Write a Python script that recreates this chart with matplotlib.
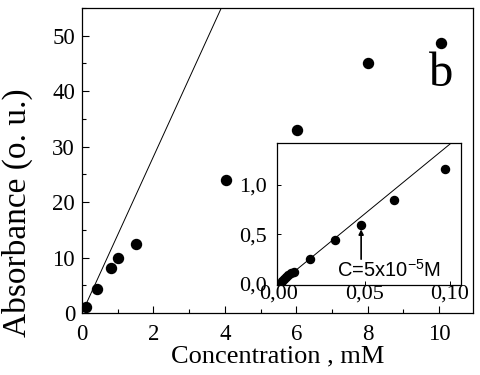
import matplotlib
matplotlib.use("Agg")
import matplotlib.pyplot as plt
import numpy as np
from matplotlib.ticker import MultipleLocator, FuncFormatter

# ---- data ----
main_conc = [0.11, 0.41, 0.81, 1.0, 1.52, 4.03, 6.01, 8.01, 10.04]
main_abs = [1.0, 4.3, 8.2, 9.9, 12.5, 23.9, 33.0, 45.1, 48.6]
inset_conc = [0.001, 0.002, 0.003, 0.004, 0.005, 0.007, 0.009, 0.018, 0.033, 0.048, 0.067, 0.097]
inset_abs = [0.01, 0.03, 0.05, 0.07, 0.09, 0.11, 0.12, 0.25, 0.44, 0.59, 0.85, 1.16]
fit_slope = 14.1  # absorbance per mM
main_xticks = [0, 2, 4, 6, 8, 10]
main_yticks = [0, 10, 20, 30, 40, 50]
inset_xticks = [0.0, 0.05, 0.10]
inset_yticks = [0.0, 0.5, 1.0]

serif = ["Liberation Serif", "DejaVu Serif"]
plt.rcParams['font.family'] = serif
plt.rcParams['mathtext.fontset'] = 'custom'
plt.rcParams['mathtext.rm'] = 'Liberation Sans'
plt.rcParams['mathtext.it'] = 'Liberation Sans'

fig = plt.figure(figsize=(4.81, 3.75), dpi=100)
ax = fig.add_axes([0.1705, 0.1653, 0.8129, 0.8134])

ax.plot(main_conc, main_abs, 'o', color='black', markersize=7.2, zorder=3)
fx = np.array([0.0, 4.0])
ax.plot(fx, fit_slope * fx, '-', color='black', lw=0.7)
ax.set_xlim(0, 10.95)
ax.set_ylim(0, 55)
ax.set_xticks(main_xticks)
ax.set_yticks(main_yticks)
ax.xaxis.set_minor_locator(MultipleLocator(1))
ax.yaxis.set_minor_locator(MultipleLocator(5))
ax.tick_params(which='both', direction='in', top=False, right=False, labelsize=16.5, width=0.8)
ax.tick_params(which='major', length=5)
ax.tick_params(which='minor', length=3)
ax.tick_params(axis='x', pad=8)
ax.tick_params(axis='y', pad=5)
for s in ax.spines.values():
    s.set_linewidth(0.9)
ax.set_xlabel('Concentration , mM', fontsize=19, labelpad=0)
ax.set_ylabel('Absorbance (o. u.)', fontsize=24)
ax.yaxis.set_label_coords(-0.125, 0.33)
ax.text(10.05, 41.0, 'b', fontsize=35, ha='center', va='baseline')

# ---- inset ----
ins = fig.add_axes([0.5759, 0.24, 0.3825, 0.3787])
ins.set_facecolor('white')
ins.plot(inset_conc, inset_abs, 'o', color='black', markersize=5.8, zorder=3)
ix = np.array([0.0, 0.101])
ins.plot(ix, fit_slope * ix, '-', color='black', lw=0.7)
ins.set_xlim(-0.0012, 0.1064)
ins.set_ylim(-0.01, 1.42)
ins.set_xticks(inset_xticks)
ins.set_yticks(inset_yticks)
ins.xaxis.set_major_formatter(FuncFormatter(lambda v, p: f"{v:.2f}".replace('.', ',')))
ins.yaxis.set_major_formatter(FuncFormatter(lambda v, p: f"{v:.1f}".replace('.', ',')))
ins.tick_params(which='both', direction='in', top=False, right=False, labelsize=16, length=3, width=0.7)
ins.tick_params(axis='x', pad=0)
ins.tick_params(axis='y', pad=7)
for s in ins.spines.values():
    s.set_linewidth(0.9)
ins.annotate('', xy=(0.048, 0.55), xytext=(0.048, 0.25),
             arrowprops=dict(arrowstyle='-|>', color='black', lw=1.2, mutation_scale=7,
                             shrinkA=0, shrinkB=0))
ins.text(0.034, 0.07, r'C=5x10$^{-5}$M', fontsize=14.5, family=['Liberation Sans', 'DejaVu Sans'],
         ha='left', va='baseline')

fig.savefig('out.png', dpi=100)
